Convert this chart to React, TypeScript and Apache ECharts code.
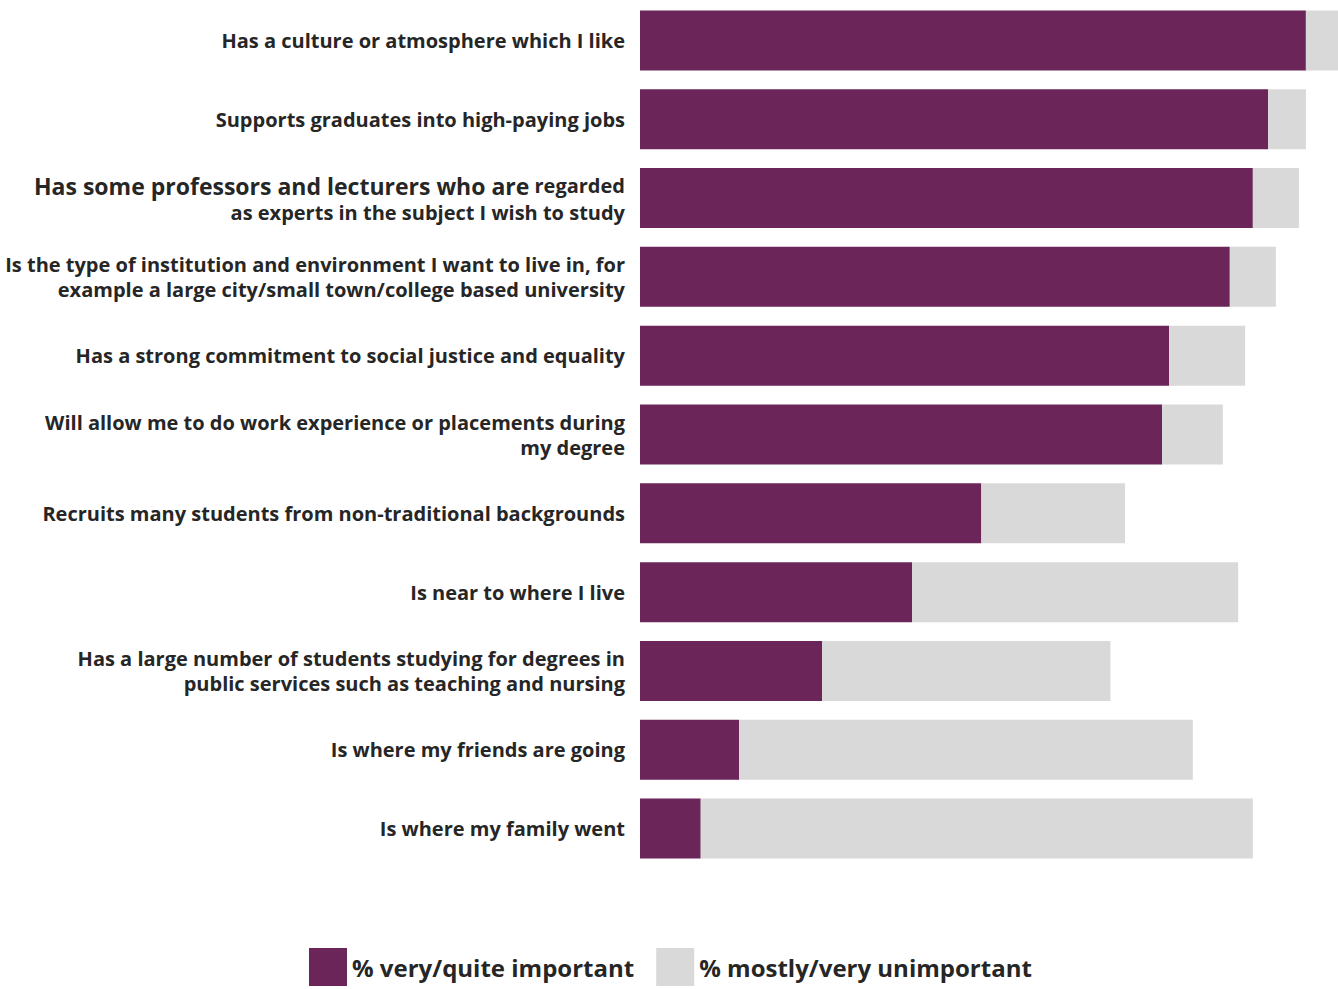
import React, { useEffect, useRef } from "react";
import * as echarts from "echarts";

const categories = [
  "Has a culture or atmosphere which I like",
  "Supports graduates into high-paying jobs",
  "Has some professors and lecturers who are regarded\nas experts in the subject I wish to study",
  "Is the type of institution and environment I want to live in, for\nexample a large city/small town/college based university",
  "Has a strong commitment to social justice and equality",
  "Will allow me to do work experience or placements during\nmy degree",
  "Recruits many students from non-traditional backgrounds",
  "Is near to where I live",
  "Has a large number of students studying for degrees in\npublic services such as teaching and nursing",
  "Is where my friends are going",
  "Is where my family went",
];

const important = [95.4, 90.0, 87.8, 84.5, 75.8, 74.8, 48.9, 39.0, 26.1, 14.2, 8.7];
const unimportant = [4.6, 5.4, 6.6, 6.6, 10.9, 8.7, 20.6, 46.7, 41.3, 65.0, 79.1];

const seriesNames = ["% very/quite important", "% mostly/very unimportant"];
const colors = ["#6B2559", "#D9D9D9"];

export default function App() {
  const ref = useRef<HTMLDivElement>(null);
  useEffect(() => {
    if (!ref.current) return;
    const chart = echarts.init(ref.current, undefined, { renderer: "svg" });
    const font = "'Open Sans', Lato, sans-serif";
    const txt = "#262626";
    chart.setOption({
      animation: false,
      textStyle: { fontFamily: font },
      grid: { left: 640, right: 0, top: 1, height: 867, containLabel: false },
      legend: {
        left: 304,
        top: 943,
        itemWidth: 38,
        itemHeight: 38,
        itemGap: 22,
        icon: "rect",
        textStyle: { fontSize: 24, fontWeight: "bold", color: txt, fontFamily: font },
        data: seriesNames,
      },
      xAxis: {
        type: "value",
        min: 0,
        max: 100,
        show: false,
      },
      yAxis: {
        type: "category",
        inverse: true,
        data: categories,
        axisLine: { show: false },
        axisTick: { show: false },
        axisLabel: {
          margin: 15,
          fontSize: 20,
          fontWeight: "bold",
          color: txt,
          lineHeight: 25,
          fontFamily: font,
          formatter: (v: string, i: number) => {
            if (i === 2) {
              const [l1, l2] = v.split("\n");
              const head = "Has some professors and lecturers who are";
              const rest = l1.slice(head.length);
              return "{big|" + head + "}{norm|" + rest + "}\n{norm2|" + l2 + "}";
            }
            return v;
          },
          rich: {
            big: { fontSize: 23, fontWeight: "bold", color: txt, fontFamily: font, lineHeight: 28 },
            norm: { fontSize: 20, fontWeight: "bold", color: txt, fontFamily: font, lineHeight: 28 },
            norm2: { fontSize: 20, fontWeight: "bold", color: txt, fontFamily: font, lineHeight: 25 },
          },
        },
      },
      series: [
        {
          name: seriesNames[0],
          type: "bar",
          stack: "total",
          barWidth: 60,
          itemStyle: { color: colors[0] },
          data: important,
        },
        {
          name: seriesNames[1],
          type: "bar",
          stack: "total",
          barWidth: 60,
          itemStyle: { color: colors[1] },
          data: unimportant,
        },
      ],
    });
    return () => chart.dispose();
  }, []);
  return (
    <div
      ref={ref}
      style={{ position: "fixed", left: 0, top: 0, width: 1338, height: 989, background: "#fff" }}
    />
  );
}
